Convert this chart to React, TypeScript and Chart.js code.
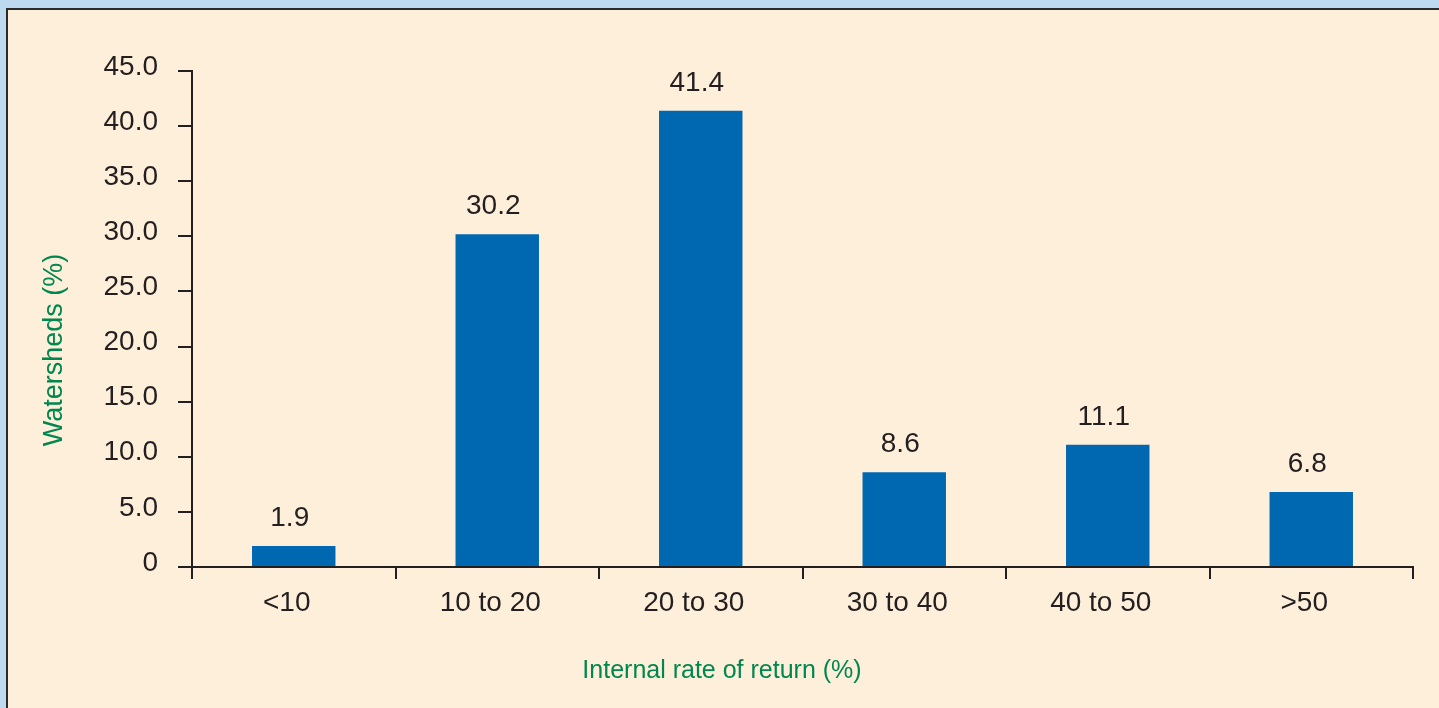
import React, { useEffect, useRef } from "react";
import { Chart, registerables } from "chart.js";

Chart.register(...registerables);

const categories = ["<10", "10 to 20", "20 to 30", "30 to 40", "40 to 50", ">50"];
const values = [1.9, 30.2, 41.4, 8.6, 11.1, 6.8];
const valueLabels = ["1.9", "30.2", "41.4", "8.6", "11.1", "6.8"];
const xTitle = "Internal rate of return (%)";
const yTitle = "Watersheds (%)";

const FONT = "'Liberation Sans', Arial, Helvetica, sans-serif";
const TEXT = "#231F20";
const GREEN = "#00874F";
const BAR = "#0067B1";

const W = 1439;
const H = 708;

const labelsPlugin = {
  id: "customLabels",
  afterDatasetsDraw(chart: any) {
    const ctx = chart.ctx;
    const meta = chart.getDatasetMeta(0);
    ctx.save();
    ctx.fillStyle = TEXT;
    ctx.font = `28px ${FONT}`;
    ctx.textAlign = "center";
    ctx.textBaseline = "alphabetic";
    meta.data.forEach((bar: any, i: number) => {
      ctx.fillText(valueLabels[i], bar.x - 4, bar.y - 20);
    });
    // axis titles
    ctx.fillStyle = GREEN;
    ctx.font = `25px ${FONT}`;
    ctx.fillText(xTitle, 722, 678);
    ctx.translate(62, 350);
    ctx.rotate(-Math.PI / 2);
    ctx.font = `27px ${FONT}`;
    ctx.fillText(yTitle, 0, 0);
    ctx.restore();
  },
};

export default function App() {
  const ref = useRef<HTMLCanvasElement>(null);
  useEffect(() => {
    if (!ref.current) return;
    const chart = new Chart(ref.current, {
      type: "bar",
      data: {
        labels: categories,
        datasets: [
          {
            data: values,
            backgroundColor: BAR,
            borderWidth: 0,
            barPercentage: 0.41,
            categoryPercentage: 1,
          },
        ],
      },
      options: {
        responsive: false,
        animation: false,
        layout: { padding: { top: 71, right: 26, left: 0, bottom: 0 } },
        plugins: { legend: { display: false }, tooltip: { enabled: false } },
        scales: {
          x: {
            offset: true,
            grid: {
              offset: true,
              drawOnChartArea: false,
              drawTicks: true,
              tickLength: 12,
              tickColor: TEXT,
              lineWidth: 2,
            },
            border: { display: true, color: TEXT, width: 2 },
            ticks: {
              color: TEXT,
              font: { family: FONT, size: 28 },
              padding: 7,
              labelOffset: -7,
              maxRotation: 0,
              autoSkip: false,
            },
            afterFit(scale: any) {
              scale.height = H - 567;
            },
          },
          y: {
            min: 0,
            max: 45,
            grid: {
              drawOnChartArea: false,
              drawTicks: true,
              tickLength: 14,
              tickColor: TEXT,
              lineWidth: 2,
            },
            border: { display: true, color: TEXT, width: 2 },
            ticks: {
              stepSize: 5,
              color: TEXT,
              font: { family: FONT, size: 28 },
              padding: 20,
              labelOffset: -4,
              callback: (v: any) => (Number(v) === 0 ? "0" : Number(v).toFixed(1)),
            },
            afterFit(scale: any) {
              scale.width = 192;
            },
          },
        },
      },
      plugins: [labelsPlugin],
    });
    return () => chart.destroy();
  }, []);

  return (
    <div
      style={{
        position: "fixed",
        left: 0,
        top: 0,
        width: W,
        height: H,
        background: "#BDD8EF",
        overflow: "hidden",
      }}
    >
      <div
        style={{
          position: "absolute",
          left: 6,
          top: 8,
          right: 0,
          bottom: 0,
          background: "#FEEFDA",
          borderTop: "2px solid #2A2A2A",
          borderLeft: "2px solid #2A2A2A",
        }}
      />
      <canvas
        ref={ref}
        width={W}
        height={H}
        style={{ position: "absolute", left: 0, top: 0, width: W, height: H }}
      />
    </div>
  );
}
